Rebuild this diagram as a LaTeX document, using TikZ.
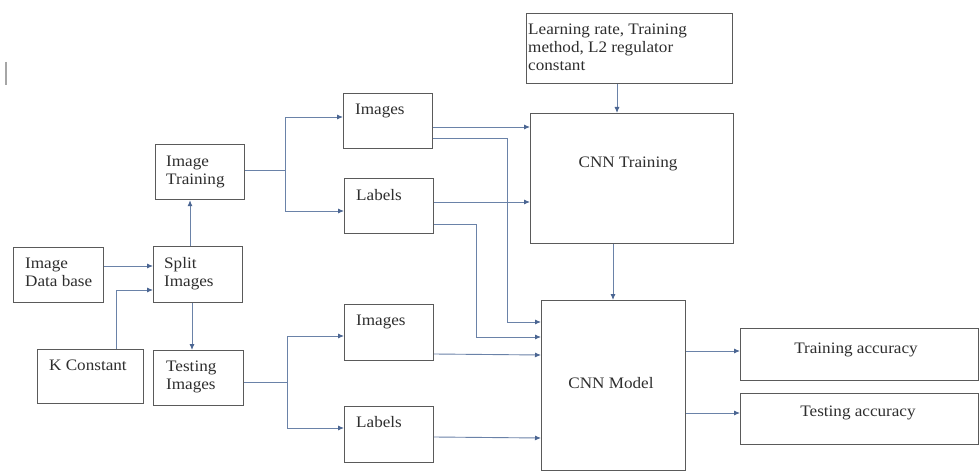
\documentclass[tikz,border=0pt]{standalone}
\usepackage{fontspec}
\setmainfont[FakeStretch=1.07]{Liberation Serif}
\usetikzlibrary{arrows.meta}
\definecolor{boxline}{HTML}{5A5A5A}
\definecolor{connline}{HTML}{6A82A8}
\definecolor{arrowc}{HTML}{4A6592}
\definecolor{txt}{HTML}{2E2E2E}
\tikzset{
  box/.style={draw=boxline, line width=1.2pt, anchor=north west, inner sep=0pt, fill=white},
  txtl/.style={anchor=base west, inner sep=0pt, text=txt, font=\fontsize{16}{18}\selectfont},
  txtc/.style={anchor=base, inner sep=0pt, text=txt, font=\fontsize{16}{18}\selectfont},
  conn/.style={draw=connline, line width=0.9pt},
  arr/.style={conn, -{Latex[length=6pt,width=5pt,fill=arrowc,color=arrowc]}}
}
\newcommand{\twoline}[2]{\vtop{\hbox{#1}\hbox{#2}}}
\begin{document}
\begin{tikzpicture}[x=1pt,y=-1pt]
\useasboundingbox[fill=white] (0,0) rectangle (979,476);
% cursor mark
\draw[draw=gray!70, line width=1.6pt] (6,62) -- (6,85);
% boxes
\node[box, minimum width=90pt, minimum height=55pt] (db) at (13,247) {};
\node[box, minimum width=89pt, minimum height=56pt] (split) at (153,246) {};
\node[box, minimum width=89pt, minimum height=55pt] (itrain) at (155,144) {};
\node[box, minimum width=106pt, minimum height=54pt] (kc) at (37,349) {};
\node[box, minimum width=90pt, minimum height=55pt] (test) at (153,350) {};
\node[box, minimum width=89pt, minimum height=55pt] (img1) at (343,93) {};
\node[box, minimum width=89pt, minimum height=55pt] (lab1) at (344,178) {};
\node[box, minimum width=89pt, minimum height=56pt] (img2) at (344,304) {};
\node[box, minimum width=89pt, minimum height=56pt] (lab2) at (344,406) {};
\node[box, minimum width=206pt, minimum height=70pt] (lr) at (526,13) {};
\node[box, minimum width=203pt, minimum height=130pt] (cnnt) at (530,113) {};
\node[box, minimum width=144pt, minimum height=170pt] (cnnm) at (541,300) {};
\node[box, minimum width=238pt, minimum height=52pt] (tracc) at (740,328) {};
\node[box, minimum width=238pt, minimum height=51pt] (teacc) at (740,393) {};
% texts
\node[txtl] (tdb) at (25,268) {\twoline{Image}{Data base}};
\node[txtl] (tsplit) at (164,268) {\twoline{Split}{Images}};
\node[txtl] (titrain) at (166,166) {\twoline{Image}{Training}};
\node[txtl] (tkc) at (49,370) {K Constant};
\node[txtl] (ttest) at (166,371) {\twoline{Testing}{Images}};
\node[txtl] (timg1) at (355,115) {Images};
\node[txtl] (tlab1) at (356,200) {Labels};
\node[txtl] (timg2) at (356,325) {Images};
\node[txtl] (tlab2) at (356,427) {Labels};
\node[txtl] (tlr) at (528,35) {\vtop{\hbox{Learning rate, Training}\hbox{method, L2 regulator}\hbox{constant}}};
\node[txtc] (tcnnt) at (628,167) {CNN Training};
\node[txtc] (tcnnm) at (611,388) {CNN Model};
\node[txtc] (ttracc) at (856,353) {Training accuracy};
\node[txtc] (tteacc) at (858,416) {Testing accuracy};
% connectors
\draw[arr] (db.east |- 0,266) -- (split.west |- 0,266);
\draw[arr] (kc.north -| 116,0) |- (split.west |- 0,290);
\draw[arr] (split.north -| 190,0) -- (itrain.south -| 190,0);
\draw[arr] (split.south -| 192,0) -- (test.north -| 192,0);
\coordinate (b1) at (285,170);
\draw[conn] (itrain.east |- b1) -- (b1);
\draw[arr] (b1) |- (img1.west |- 0,117);
\draw[arr] (b1) |- (lab1.west |- 0,211);
\coordinate (b2) at (287,382);
\draw[conn] (test.east |- b2) -- (b2);
\draw[arr] (b2) |- (img2.west |- 0,336);
\draw[arr] (b2) |- (lab2.west |- 0,428);
\draw[arr] (img1.east |- 0,127) -- (cnnt.west |- 0,127);
\draw[arr] (img1.east |- 0,138) -| (507,322) -- (cnnm.west |- 0,322);
\draw[arr] (lab1.east |- 0,202) -- (cnnt.west |- 0,202);
\draw[arr] (lab1.east |- 0,224) -| (476,337) -- (cnnm.west |- 0,337);
\draw[arr] (img2.east |- 0,354) -- (cnnm.west |- 0,355);
\draw[arr] (lab2.east |- 0,437) -- (cnnm.west |- 0,438);
\draw[arr] (lr.south -| 617,0) -- (cnnt.north -| 617,0);
\draw[arr] (cnnt.south -| 613,0) -- (cnnm.north -| 613,0);
\draw[arr] (cnnm.east |- 0,351) -- (tracc.west |- 0,351);
\draw[arr] (cnnm.east |- 0,413) -- (teacc.west |- 0,413);
\end{tikzpicture}
\end{document}
